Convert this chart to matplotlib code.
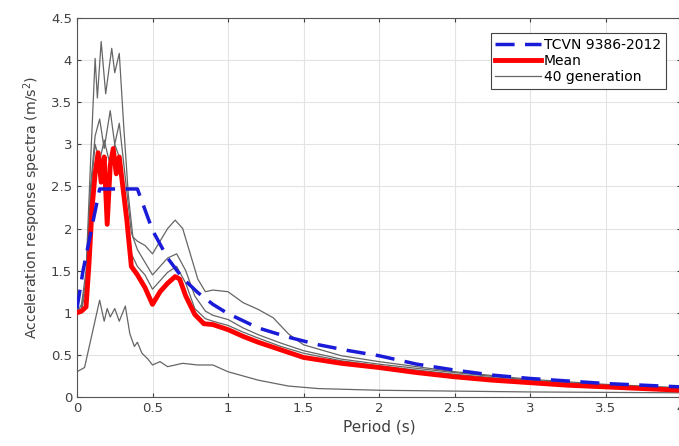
import numpy as np
import matplotlib.pyplot as plt
from matplotlib.ticker import FormatStrFormatter

# Periodo (s) y ordenadas
T_code = [0, 0.04, 0.15, 0.4, 0.5, 0.6, 0.7, 0.8, 0.9, 1.0, 1.2, 1.4, 1.6, 1.8, 2.0,
          2.25, 2.5, 2.75, 3.0, 3.25, 3.5, 3.75, 4.0]
sa_code = [1.05, 1.5, 2.47, 2.47, 1.98, 1.65, 1.41, 1.24, 1.10, 0.99, 0.82, 0.71, 0.62,
           0.55, 0.49, 0.39, 0.32, 0.26, 0.22, 0.19, 0.16, 0.14, 0.12]

T_mean = [0, 0.03, 0.06, 0.08, 0.1, 0.12, 0.14, 0.16, 0.18, 0.2, 0.22, 0.24, 0.26, 0.28,
          0.3, 0.33, 0.36, 0.4, 0.45, 0.5, 0.55, 0.6, 0.65, 0.68, 0.72, 0.78, 0.84, 0.9,
          1.0, 1.1, 1.2, 1.35, 1.5, 1.75, 2.0, 2.25, 2.5, 2.75, 3.0, 3.25, 3.5, 3.75, 4.0]
sa_mean = [1.0, 1.02, 1.07, 1.6, 2.25, 2.65, 2.9, 2.55, 2.85, 2.05, 2.75, 2.95, 2.65, 2.85,
           2.55, 2.1, 1.55, 1.45, 1.3, 1.1, 1.25, 1.35, 1.43, 1.4, 1.2, 0.98, 0.87, 0.86,
           0.8, 0.72, 0.65, 0.56, 0.47, 0.4, 0.35, 0.29, 0.24, 0.2, 0.17, 0.14, 0.12, 0.1, 0.08]

T_g1 = [0, 0.03, 0.06, 0.09, 0.12, 0.135, 0.16, 0.19, 0.23, 0.25, 0.28, 0.31, 0.34, 0.37,
        0.4, 0.45, 0.5, 0.55, 0.6, 0.65, 0.7, 0.75, 0.8, 0.85, 0.9, 1.0, 1.1, 1.2, 1.3,
        1.4, 1.5, 1.75, 2.0, 2.5, 3.0, 3.5, 4.0]
sa_g1 = [1.0, 1.1, 1.5, 2.8, 4.02, 3.55, 4.22, 3.6, 4.14, 3.85, 4.08, 3.2, 2.4, 1.9,
         1.85, 1.8, 1.7, 1.85, 2.0, 2.1, 2.0, 1.7, 1.4, 1.25, 1.27, 1.25, 1.12, 1.04, 0.94,
         0.75, 0.62, 0.49, 0.42, 0.3, 0.21, 0.15, 0.11]

T_g = [0, 0.03, 0.06, 0.09, 0.12, 0.15, 0.18, 0.22, 0.25, 0.28, 0.32, 0.36, 0.4, 0.45,
       0.5, 0.55, 0.6, 0.66, 0.72, 0.78, 0.85, 0.9, 1.0, 1.1, 1.2, 1.35, 1.5, 1.75, 2.0,
       2.5, 3.0, 3.5, 4.0]
sa_g2 = [1.0, 1.05, 1.4, 2.5, 3.1, 3.3, 2.95, 3.4, 3.0, 3.25, 2.6, 1.95, 1.75, 1.6,
         1.45, 1.55, 1.65, 1.7, 1.5, 1.2, 1.02, 0.97, 0.92, 0.82, 0.74, 0.64, 0.55, 0.45,
         0.39, 0.29, 0.2, 0.14, 0.1]
sa_g3 = [1.0, 1.03, 1.3, 2.4, 3.0, 2.8, 3.05, 2.75, 3.0, 2.85, 2.3, 1.7, 1.55, 1.45,
         1.28, 1.38, 1.48, 1.55, 1.35, 1.05, 0.93, 0.9, 0.85, 0.77, 0.7, 0.6, 0.52, 0.43,
         0.37, 0.27, 0.19, 0.13, 0.09]

T_g4 = [0, 0.05, 0.1, 0.15, 0.18, 0.2, 0.22, 0.25, 0.28, 0.32, 0.35, 0.38, 0.4, 0.43,
        0.47, 0.5, 0.55, 0.6, 0.7, 0.8, 0.9, 1.0, 1.2, 1.4, 1.6, 2.0, 3.0, 4.0]
sa_g4 = [0.3, 0.35, 0.75, 1.15, 0.9, 1.05, 0.95, 1.05, 0.9, 1.08, 0.75, 0.6, 0.65, 0.52,
         0.45, 0.38, 0.42, 0.36, 0.4, 0.38, 0.38, 0.3, 0.2, 0.13, 0.1, 0.08, 0.06, 0.05]

fig = plt.figure(figsize=(6.79, 4.46), dpi=100)
ax = fig.add_axes([77/679, 49/446, 604/679, 379/446])

gris = (0.4, 0.4, 0.4)
ax.plot(T_code, sa_code, color=(0.1, 0.1, 0.85), lw=2.5, dashes=(5.5, 3),
        label='TCVN 9386-2012', zorder=4)
ax.plot(T_mean, sa_mean, color='red', lw=3.5, label='Mean', zorder=3)
ax.plot(T_g1, sa_g1, color=gris, lw=0.9, label='40 generation', zorder=2)
for sa in (sa_g2, sa_g3):
    ax.plot(T_g, sa, color=gris, lw=0.9, zorder=2)
ax.plot(T_g4, sa_g4, color=gris, lw=0.9, zorder=2)

ax.set_xlim(0, 4)
ax.set_ylim(0, 4.5)
ax.set_xticks(np.arange(0, 4.01, 0.5))
ax.set_yticks(np.arange(0, 4.51, 0.5))
ax.xaxis.set_major_formatter(FormatStrFormatter('%g'))
ax.yaxis.set_major_formatter(FormatStrFormatter('%g'))
ax.grid(True, color='#e3e3e3', lw=0.8)
ax.set_axisbelow(True)
ax.tick_params(direction='in', top=True, right=True, labelsize=9.5,
               colors='#404040', length=3)
for s in ax.spines.values():
    s.set_color('#555555')
    s.set_linewidth(0.8)

ax.set_xlabel('Period (s)', fontsize=11, color='#404040', labelpad=3)
ax.set_ylabel('Acceleration response spectra (m/s$^2$)', fontsize=10.2,
              color='#404040', labelpad=6)

leg = ax.legend(loc='upper right', bbox_to_anchor=(666/679, 1 - 33/446),
                bbox_transform=fig.transFigure, borderaxespad=0, fontsize=10,
                fancybox=False, handlelength=3.3, handletextpad=0.2, borderpad=0.35,
                labelspacing=0.15, framealpha=1)
leg.get_frame().set_edgecolor('#444444')
leg.get_frame().set_linewidth(0.8)

fig.savefig('out.png', dpi=100)
